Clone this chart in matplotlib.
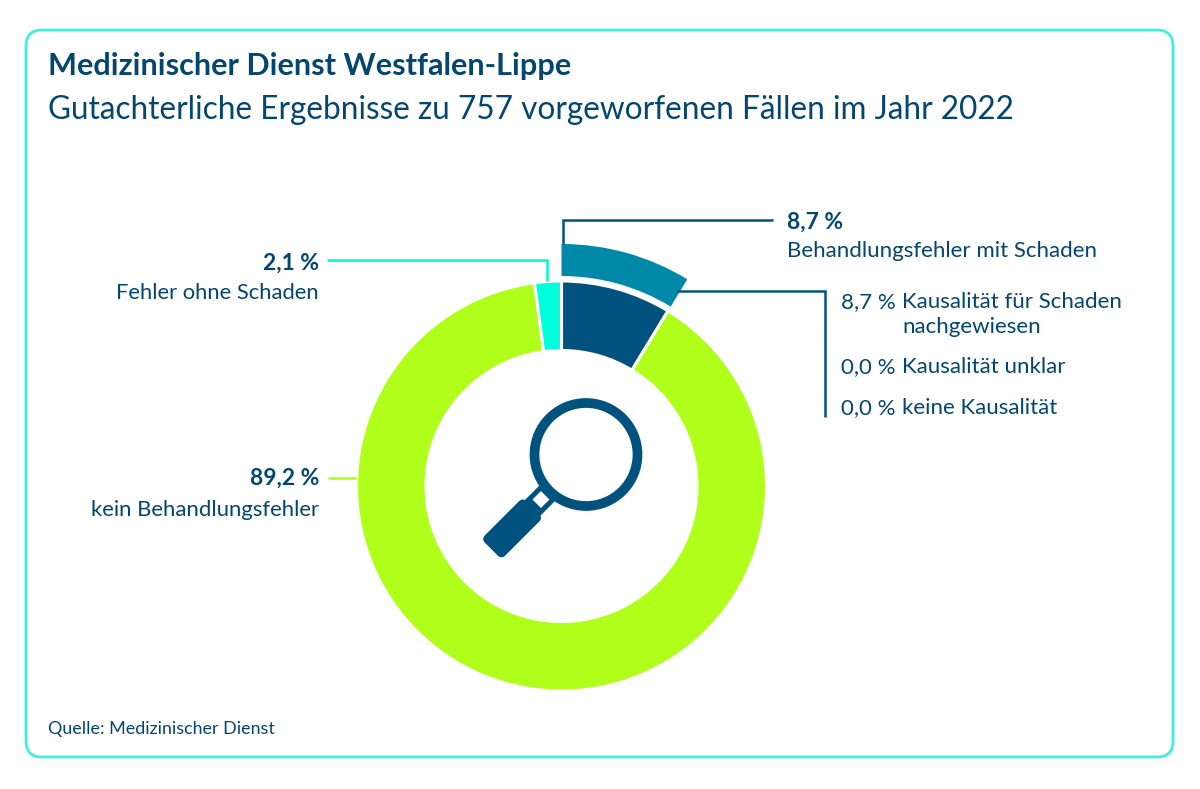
import numpy as np
import matplotlib
matplotlib.use("Agg")
import matplotlib.pyplot as plt
from matplotlib.patches import FancyBboxPatch, Circle, Polygon

plt.rcParams['font.family'] = ['Lato', 'DejaVu Sans']

title = "Medizinischer Dienst Westfalen-Lippe"
subtitle = "Gutachterliche Ergebnisse zu 757 vorgeworfenen Fällen im Jahr 2022"
source = "Quelle: Medizinischer Dienst"
main_values = [8.7, 89.2, 2.1]
main_colors = ['#02527f', '#b0ff1a', '#00ffdc']
outer_values = [8.7, 91.3]

NAVY = '#03466f'
BLUE = '#02527f'
TEAL = '#0088a8'
CYAN = '#00f5d4'
LIME = '#b0ff1a'

W, H = 1200, 789
fig = plt.figure(figsize=(12, 7.89), dpi=100)
ax = fig.add_axes([0, 0, 1, 1])
cx, cy = 561.5, H - 486

ax.pie(main_values, colors=main_colors, startangle=90, counterclock=False,
       center=(cx, cy), radius=205, frame=True,
       wedgeprops=dict(width=69.5, edgecolor='white', linewidth=2.2))
ax.pie(outer_values, colors=[TEAL, 'none'], startangle=90, counterclock=False,
       center=(cx, cy), radius=242, frame=True,
       wedgeprops=dict(width=32, edgecolor='none', linewidth=0))
ax.set_xlim(0, W)
ax.set_ylim(0, H)
ax.set_aspect('auto')
ax.axis('off')

ax.add_patch(FancyBboxPatch((26, H - 757), 1147, 727,
                            boxstyle="round,pad=0,rounding_size=16",
                            fc='white', ec='#3df2dc', lw=2.0, zorder=0))

def Y(y):
    return H - y

def line(xs, ys, color, lw=1.8):
    ax.plot(xs, [Y(v) for v in ys], color=color, lw=lw, solid_capstyle='butt',
            solid_joinstyle='miter', zorder=1)

line([563, 563, 773], [244, 220, 220], BLUE)
line([327, 547, 547], [260, 260, 281], CYAN)
line([328, 356], [478, 478], LIME)
line([676, 825, 825], [291, 291, 417], BLUE)

def T(x, y, s, size=16.0, weight='normal', ha='left'):
    ax.text(x, Y(y), s, fontsize=size, fontweight=weight, color=NAVY, ha=ha,
            va='center', zorder=5)

ax.text(48, Y(66), title, fontsize=22.1, fontweight='bold', color=NAVY, va='center')
ax.text(48, Y(110), subtitle, fontsize=22.7, color=NAVY, va='center')
T(48, 729, source, 12.9)

T(787, 222, "8,7 %", 16.5, 'bold')
T(787, 251, "Behandlungsfehler mit Schaden", 16)
T(319, 263, "2,1 %", 16.5, 'bold', 'right')
T(319, 293, "Fehler ohne Schaden", 15.8, ha='right')
T(319, 478, "89,2 %", 16.5, 'bold', 'right')
T(319, 510, "kein Behandlungsfehler", 15.9, ha='right')

T(841, 302, "8,7 %", 16)
T(902, 302, "Kausalität für Schaden", 16)
T(902, 327, "nachgewiesen", 16)
T(841, 367, "0,0 %", 16)
T(902, 367, "Kausalität unklar", 16)
T(841, 408, "0,0 %", 16)
T(902, 408, "keine Kausalität", 16)

# magnifying glass icon
gx, gy = 586, Y(454.5)
ax.add_patch(Circle((gx, gy), 51.5, fc='none', ec=BLUE, lw=7, zorder=4))
d = np.array([-1, -1]) / np.sqrt(2)
n = np.array([1, -1]) / np.sqrt(2)
c0 = np.array([gx, gy])
def rect(a, b, hw):
    p, q = c0 + d * a, c0 + d * b
    return [p + n * hw, q + n * hw, q - n * hw, p - n * hw]
ax.add_patch(Polygon(rect(52, 78, 11), closed=True, fc=BLUE, ec='none', zorder=3))
ax.add_patch(Polygon(rect(57.7, 69.7, 6), closed=True, fc='white', ec='none', zorder=4))
ax.add_patch(Polygon(rect(80, 129, 9.5), closed=True, fc=BLUE, ec=BLUE, lw=7,
                     joinstyle='round', zorder=4))

fig.savefig("out.png", dpi=100, facecolor='white')
